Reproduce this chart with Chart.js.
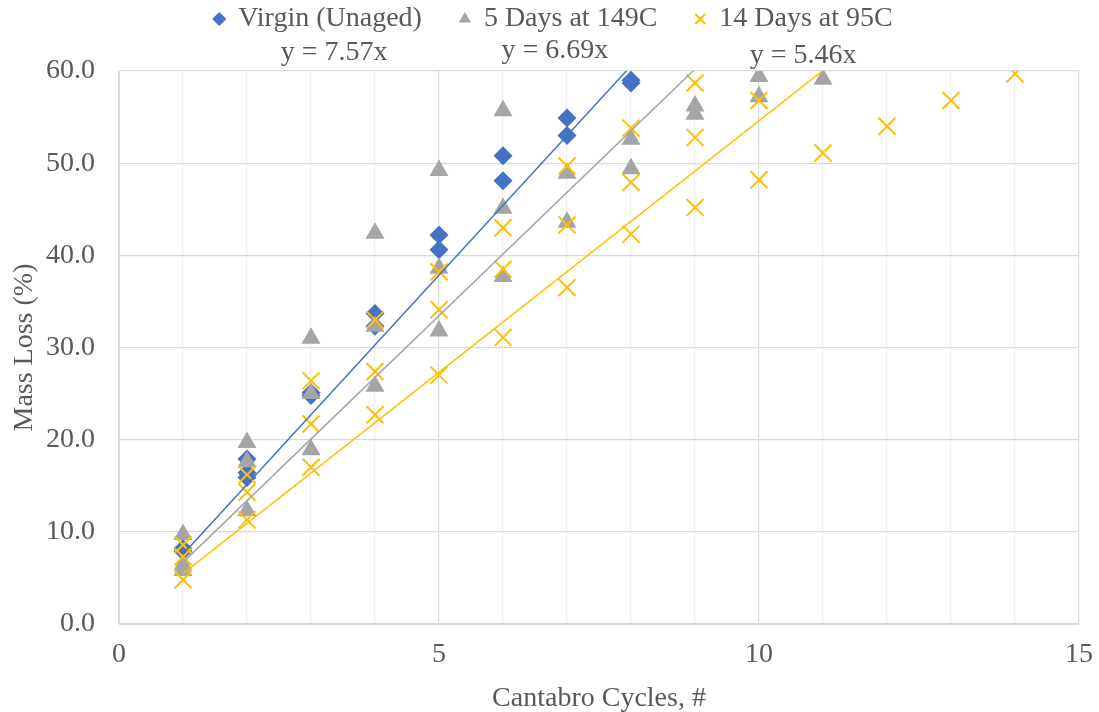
<!DOCTYPE html>
<html lang="en">

<head>
    <meta charset="UTF-8">
    <title>Cantabro Mass Loss</title>
    <script src="https://cdn.jsdelivr.net/npm/chart.js@4.4.1/dist/chart.umd.min.js"></script>
    <style>
        * {
            margin: 0;
            padding: 0;
            box-sizing: border-box;
        }

        body {
            background: white;
        }

        .chart-box {
            width: 1099px;
            height: 712px;
        }
    </style>
</head>

<body>
    <div class="chart-box">
        <canvas id="massChart"></canvas>
    </div>

    <script>
        // Data (x = Cantabro cycles, y = mass loss %)
        const seriesNames = ['Virgin (Unaged)', '5 Days at 149C', '14 Days at 95C'];

        const virginX = [1, 1, 2, 2, 2, 3, 3, 4, 4, 5, 5, 6, 6, 7, 7, 8, 8];
        const virginY = [8.2, 7.9, 17.9, 16.4, 15.9, 24.8, 25.1, 33.7, 32.3, 42.2, 40.6, 50.8, 48.1, 54.9, 53.0, 59.0, 58.7];

        const aged149X = [1, 1, 1, 2, 2, 2, 3, 3, 3, 4, 4, 4, 5, 5, 5, 6, 6, 6, 7, 7, 8, 8, 9, 9, 10, 10, 11];
        const aged149Y = [9.7, 6.4, 5.8, 19.7, 17.6, 12.3, 31.0, 25.0, 18.9, 42.4, 32.3, 25.8, 49.2, 38.6, 31.8,
            55.7, 45.1, 37.7, 48.9, 43.6, 52.6, 49.4, 56.2, 55.3, 59.4, 57.2, 59.1];

        const aged95X = [1, 1, 1, 2, 2, 2, 3, 3, 3, 4, 4, 4, 5, 5, 5, 6, 6, 6, 7, 7, 7, 8, 8, 8, 9, 9, 9, 10, 10, 11, 12, 13, 14];
        const aged95Y = [8.6, 7.3, 4.8, 16.2, 14.3, 11.3, 26.4, 21.7, 17.0, 33.0, 27.4, 22.7, 38.2, 34.1, 27.0,
            43.0, 38.5, 31.1, 49.7, 43.3, 36.5, 53.8, 47.9, 42.3, 58.7, 52.8, 45.2, 56.8, 48.2, 51.1, 54.0, 56.8, 59.7];

        // Trendline slopes (forced through zero) and label anchors
        const trendSlopes = [7.57, 6.69, 5.46];
        const trendLabelX = [3.36, 6.81, 10.69];
        const trendLabelDy = [-18, -20, -15];

        const colors = ['#4472C4', '#A5A5A5', '#FFC000'];
        const markers = ['rectRot', 'triangle', 'crossRot'];
        const markerSizes = [9.5, 11, 12];

        const yTicks = [0, 10, 20, 30, 40, 50, 60];
        const xLabelTicks = [0, 5, 10, 15];

        const fontFamily = "'Liberation Serif', 'Times New Roman', serif";
        const fontSize = 28;
        const textColor = '#595959';

        function toPoints(xs, ys) {
            return xs.map((x, i) => ({ x: x, y: ys[i] }));
        }

        const allX = [virginX, aged149X, aged95X];
        const allY = [virginY, aged149Y, aged95Y];

        // Scatter datasets (later series drawn on top, like Excel)
        const datasets = seriesNames.map((name, i) => ({
            label: name,
            data: toPoints(allX[i], allY[i]),
            pointStyle: markers[i],
            pointRadius: markerSizes[i],
            pointHoverRadius: markerSizes[i],
            backgroundColor: colors[i],
            borderColor: colors[i],
            borderWidth: i === 2 ? 2 : 0,
            showLine: false,
            order: 4 - i
        }));

        // Trendlines over the x-range of each series
        trendSlopes.forEach((slope, i) => {
            const xMin = Math.min(...allX[i]);
            const xMax = Math.max(...allX[i]);
            datasets.push({
                label: 'trend' + i,
                type: 'line',
                data: [{ x: xMin, y: slope * xMin }, { x: xMax, y: slope * xMax }],
                borderColor: colors[i],
                borderWidth: 1.5,
                pointRadius: 0,
                fill: false,
                order: 0
            });
        });

        // Legend sits close to the top; the rest of its box holds the equations
        const legendSpacer = {
            id: 'legendSpacer',
            beforeInit(chart) {
                const legend = chart.legend;
                const origFit = legend.fit;
                const origDraw = legend.draw;
                legend.fit = function () {
                    origFit.bind(legend)();
                    this.height = 71;
                };
                legend.draw = function () {
                    const c = chart.ctx;
                    c.save();
                    c.translate(10, -33);
                    origDraw.bind(legend)();
                    c.restore();
                };
            }
        };

        // Trendline equations
        const equationLabels = {
            id: 'equationLabels',
            afterDraw(chart) {
                const ctx = chart.ctx;
                const xs = chart.scales.x;
                const top = chart.chartArea.top;
                ctx.save();
                ctx.font = fontSize + 'px ' + fontFamily;
                ctx.fillStyle = textColor;
                ctx.textAlign = 'center';
                ctx.textBaseline = 'middle';
                trendSlopes.forEach((slope, i) => {
                    ctx.fillText('y = ' + slope.toFixed(2) + 'x', xs.getPixelForValue(trendLabelX[i]), top + trendLabelDy[i]);
                });
                ctx.restore();
            }
        };

        const ctx = document.getElementById('massChart').getContext('2d');
        new Chart(ctx, {
            type: 'scatter',
            data: { datasets: datasets },
            plugins: [legendSpacer, equationLabels],
            options: {
                responsive: true,
                maintainAspectRatio: false,
                animation: false,
                layout: {
                    padding: { top: 0, right: 20, bottom: 0, left: 8 }
                },
                plugins: {
                    legend: {
                        position: 'top',
                        labels: {
                            usePointStyle: true,
                            boxWidth: 10,
                            boxHeight: 10,
                            padding: 38,
                            color: textColor,
                            font: { family: fontFamily, size: fontSize },
                            filter: item => item.datasetIndex < 3,
                            sort: (a, b) => a.datasetIndex - b.datasetIndex
                        }
                    },
                    tooltip: { enabled: false }
                },
                scales: {
                    x: {
                        type: 'linear',
                        min: 0,
                        max: 15,
                        border: { color: '#D9D9D9' },
                        grid: {
                            drawTicks: false,
                            color: c => xLabelTicks.includes(c.tick.value) ? '#D9D9D9' : '#EEEEEE',
                            lineWidth: 1.2
                        },
                        afterFit: axis => {
                            axis.height = 88;
                            axis.paddingLeft = 0;
                            axis.paddingRight = 0;
                        },
                        ticks: {
                            stepSize: 1,
                            padding: 14,
                            autoSkip: false,
                            maxRotation: 0,
                            color: textColor,
                            font: { family: fontFamily, size: fontSize },
                            callback: v => xLabelTicks.includes(v) ? String(v) : ''
                        },
                        title: {
                            display: true,
                            text: 'Cantabro Cycles, #',
                            color: textColor,
                            font: { family: fontFamily, size: fontSize },
                            padding: { top: 7, bottom: -3 }
                        }
                    },
                    y: {
                        type: 'linear',
                        min: yTicks[0],
                        max: yTicks[yTicks.length - 1],
                        border: { color: '#D9D9D9' },
                        grid: {
                            drawTicks: false,
                            color: '#D9D9D9',
                            lineWidth: 1.2
                        },
                        afterBuildTicks: axis => {
                            axis.ticks = yTicks.map(v => ({ value: v }));
                        },
                        afterFit: axis => {
                            axis.width = 111;
                        },
                        ticks: {
                            padding: 24,
                            color: textColor,
                            font: { family: fontFamily, size: fontSize },
                            callback: v => v.toFixed(1)
                        },
                        title: {
                            display: true,
                            text: 'Mass Loss (%)',
                            color: textColor,
                            font: { family: fontFamily, size: fontSize },
                            padding: { top: 0, bottom: 2 }
                        }
                    }
                }
            }
        });
    </script>
</body>

</html>
